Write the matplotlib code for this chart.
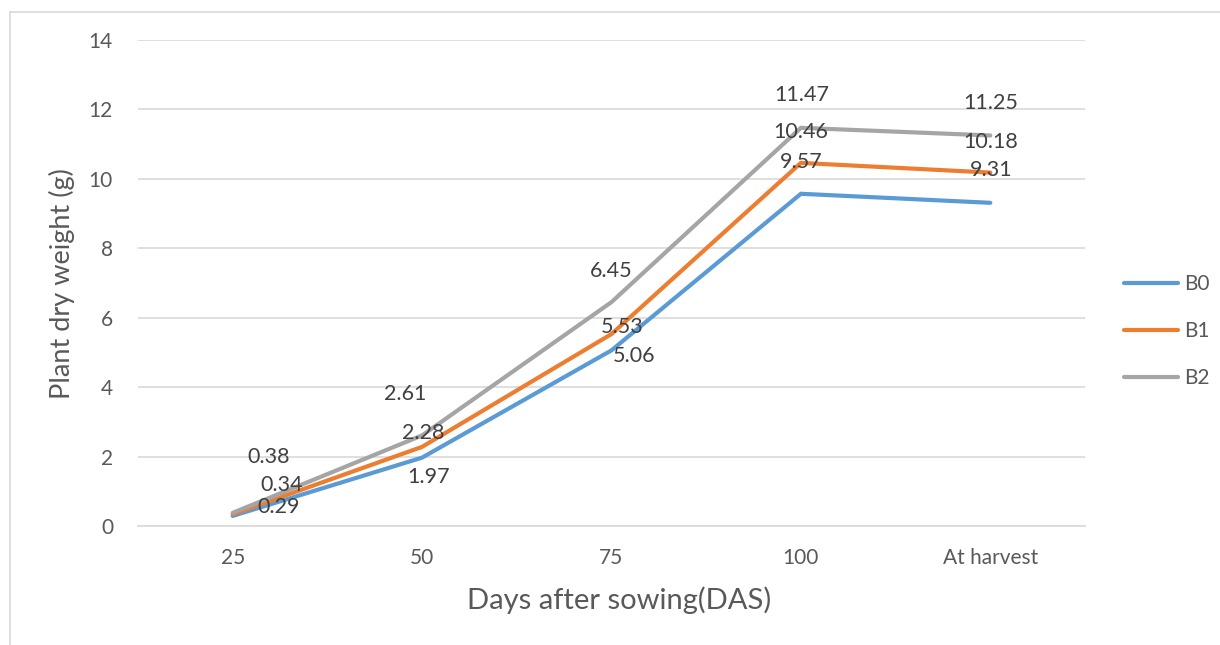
import matplotlib
matplotlib.use("Agg")
import matplotlib.pyplot as plt
from matplotlib.lines import Line2D

plt.rcParams['font.family'] = ['Lato', 'DejaVu Sans']

categories = ["25", "50", "75", "100", "At harvest"]
b0 = [0.29, 1.97, 5.06, 9.57, 9.31]
b1 = [0.34, 2.28, 5.53, 10.46, 10.18]
b2 = [0.38, 2.61, 6.45, 11.47, 11.25]

# label offsets in pixels (dx, dy), as placed in the original
off_b0 = [(46, 9), (7, -19), (23, -6), (0, 32), (1, 33)]
off_b1 = [(49, 29), (1, 14), (11, 7), (0, 31), (0, 31)]
off_b2 = [(36, 56), (-17, 41), (0, 31), (1, 33), (0, 32)]

W, H = 1220, 645
fig = plt.figure(figsize=(W / 100, H / 100), dpi=100)
ax = fig.add_axes([138 / W, 1 - 526 / H, (1085 - 138) / W, (526 - 40) / H])

x = range(len(categories))
series = [("B0", b0, "#5B9BD5", off_b0),
          ("B1", b1, "#ED7D31", off_b1),
          ("B2", b2, "#A5A5A5", off_b2)]
for name, vals, col, offs in series:
    ax.plot(x, vals, color=col, lw=3, label=name, solid_joinstyle="miter",
            solid_capstyle="round", zorder=3)
for name, vals, col, offs in series:
    for i, v in enumerate(vals):
        ax.annotate(f"{v:.2f}", (i, v), xytext=offs[i], textcoords="offset pixels",
                    ha="center", va="center", fontsize=15.5, color="#404040", zorder=4)

ax.set_xlim(-0.5, len(categories) - 0.5)
ax.set_ylim(0, 14)
ax.set_yticks(range(0, 15, 2))
ax.set_xticks(list(x))
ax.set_xticklabels(categories)
ax.grid(axis="y", color="#d9d9d9", lw=1.2)
ax.set_axisbelow(True)
for s in ["top", "right", "left"]:
    ax.spines[s].set_visible(False)
ax.spines["bottom"].set_color("#d9d9d9")
ax.spines["bottom"].set_linewidth(1.2)
ax.tick_params(length=0, labelsize=15, labelcolor="#595959")
ax.tick_params(axis="y", pad=18)
ax.tick_params(axis="x", pad=16)

fig.text(62 / W, 1 - 284 / H, "Plant dry weight (g)", rotation=90, ha="center",
         va="center", fontsize=19.5, color="#595959")
fig.text(619 / W, 1 - 600 / H, "Days after sowing(DAS)", ha="center", va="center",
         fontsize=21, color="#595959")

fig.legend(loc="center left", bbox_to_anchor=(1124 / W, 1 - 331 / H), frameon=False,
           fontsize=15, handlelength=2.6, labelspacing=1.3, handletextpad=0.3,
           borderpad=0, borderaxespad=0, labelcolor="#595959")

# thin outer frame, only left and top edges are visible in the crop
fig.add_artist(Line2D([10 / W, 10 / W], [0, 1 - 12 / H], color="#d9d9d9", lw=1.2))
fig.add_artist(Line2D([10 / W, 1], [1 - 12 / H, 1 - 12 / H], color="#d9d9d9", lw=1.2))

fig.savefig("out.png", dpi=100, facecolor="white")
